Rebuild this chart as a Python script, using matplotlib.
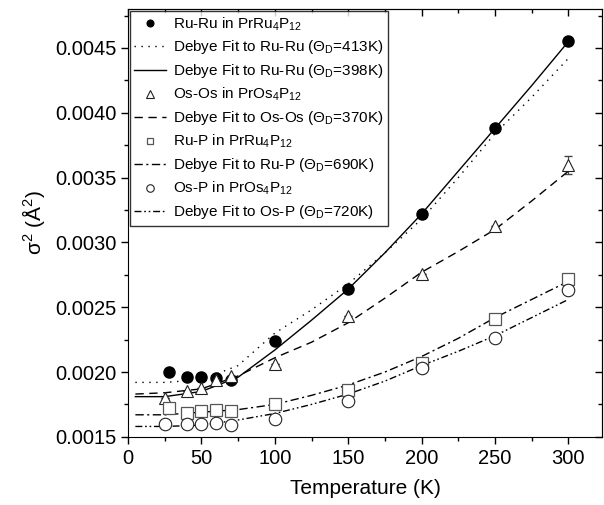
import matplotlib
matplotlib.use("Agg")
import matplotlib.pyplot as plt
from matplotlib.ticker import MultipleLocator

plt.rcParams['font.family'] = ['Liberation Sans', 'DejaVu Sans']
plt.rcParams['mathtext.default'] = 'regular'

# measured points
t_ruru = [28, 40, 50, 60, 70, 100, 150, 200, 250, 300]
s_ruru = [0.00200, 0.00196, 0.00196, 0.00195, 0.00194, 0.00224, 0.00264, 0.00322, 0.00388, 0.00455]

t_osos = [25, 40, 50, 60, 70, 100, 150, 200, 250, 300]
s_osos = [0.00180, 0.00185, 0.00188, 0.00194, 0.00197, 0.00206, 0.00243, 0.00276, 0.00313, 0.00360]
e_osos = [0, 0, 0, 0, 0, 0, 0, 0, 0, 0.00007]

t_rup = [28, 40, 50, 60, 70, 100, 150, 200, 250, 300]
s_rup = [0.00172, 0.00168, 0.00170, 0.00171, 0.00170, 0.00175, 0.00186, 0.00207, 0.00241, 0.00272]

t_osp = [25, 40, 50, 60, 70, 100, 150, 200, 250, 300]
s_osp = [0.00160, 0.00160, 0.00160, 0.00161, 0.00159, 0.00164, 0.00178, 0.00203, 0.00226, 0.00263]

# fit curves
t_fit = [5, 25, 50, 75, 100, 125, 150, 175, 200, 225, 250, 275, 300]
f_ruru413 = [0.00192, 0.00192, 0.00194, 0.00205, 0.00230, 0.00248, 0.00268, 0.00292, 0.00318, 0.00350, 0.00384, 0.00412, 0.00442]
f_ruru398 = [0.00181, 0.00181, 0.00185, 0.00196, 0.00217, 0.00240, 0.00264, 0.00292, 0.00322, 0.00355, 0.00388, 0.00421, 0.00455]
f_osos370 = [0.00183, 0.00184, 0.00187, 0.00197, 0.00211, 0.00223, 0.00238, 0.00257, 0.00277, 0.00293, 0.00310, 0.00332, 0.00355]
f_rup690 = [0.00167, 0.00167, 0.00169, 0.00171, 0.00175, 0.00182, 0.00190, 0.00200, 0.00212, 0.00226, 0.00242, 0.00256, 0.00270]
f_osp720 = [0.00158, 0.00158, 0.00159, 0.00163, 0.00168, 0.00175, 0.00183, 0.00193, 0.00205, 0.00216, 0.00228, 0.00242, 0.00256]

fig = plt.figure(figsize=(6.04, 5.05), dpi=100)
ax = fig.add_axes([0.212, 0.135, 0.785, 0.847])

h1, = ax.plot(t_ruru, s_ruru, 'o', color='black', ms=8, zorder=3)
h2, = ax.plot(t_fit, f_ruru413, color='black', lw=1, ls=(0, (1, 4)))
h3, = ax.plot(t_fit, f_ruru398, color='black', lw=1, ls='-')
ax.errorbar(t_osos, s_osos, yerr=e_osos, fmt='none', ecolor='#444444', elinewidth=0.8, capsize=3)
h4, = ax.plot(t_osos, s_osos, '^', mfc='white', mec='#222222', ms=9, mew=0.8, zorder=3)
h5, = ax.plot(t_fit, f_osos370, color='black', lw=1, ls=(0, (6, 4)))
h6, = ax.plot(t_rup, s_rup, 's', mfc='white', mec='#555555', ms=8, mew=0.9, zorder=3)
h7, = ax.plot(t_fit, f_rup690, color='black', lw=1, ls=(0, (6, 2.5, 1.5, 2.5)))
h8, = ax.plot(t_osp, s_osp, 'o', mfc='white', mec='#222222', ms=9, mew=0.8, zorder=3)
h9, = ax.plot(t_fit, f_osp720, color='black', lw=1, ls=(0, (5, 2, 1.2, 2, 1.2, 2)))

labels = ['Ru-Ru in PrRu$_4$P$_{12}$',
          'Debye Fit to Ru-Ru (Θ$_D$=413K)',
          'Debye Fit to Ru-Ru (Θ$_D$=398K)',
          'Os-Os in PrOs$_4$P$_{12}$',
          'Debye Fit to Os-Os (Θ$_D$=370K)',
          'Ru-P in PrRu$_4$P$_{12}$',
          'Debye Fit to Ru-P (Θ$_D$=690K)',
          'Os-P in PrOs$_4$P$_{12}$',
          'Debye Fit to Os-P (Θ$_D$=720K)']

ax.set_xlim(0, 323)
ax.set_ylim(0.0015, 0.0048)
ax.xaxis.set_major_locator(MultipleLocator(50))
ax.xaxis.set_minor_locator(MultipleLocator(25))
ax.yaxis.set_major_locator(MultipleLocator(0.0005))
ax.yaxis.set_minor_locator(MultipleLocator(0.00025))
ax.yaxis.set_major_formatter(plt.FormatStrFormatter('%.4f'))
ax.tick_params(which='both', direction='out', labelsize=14.5, width=1)
ax.tick_params(which='major', length=5)
ax.tick_params(which='minor', length=3)

# mirrored ticks pointing inward on top and right
axt = ax.secondary_xaxis('top')
axt.xaxis.set_major_locator(MultipleLocator(50))
axt.xaxis.set_minor_locator(MultipleLocator(25))
axt.tick_params(which='both', direction='in', labeltop=False, width=1)
axt.tick_params(which='major', length=5)
axt.tick_params(which='minor', length=3)
axr = ax.secondary_yaxis('right')
axr.yaxis.set_major_locator(MultipleLocator(0.0005))
axr.yaxis.set_minor_locator(MultipleLocator(0.00025))
axr.tick_params(which='both', direction='in', labelright=False, width=1)
axr.tick_params(which='major', length=5)
axr.tick_params(which='minor', length=3)

ax.set_xlabel('Temperature (K)', fontsize=15, labelpad=8)
ax.set_ylabel('σ$^2$ (Å$^2$)', fontsize=15, labelpad=6)

leg = ax.legend([h1, h2, h3, h4, h5, h6, h7, h8, h9], labels, loc='upper left', fontsize=11,
                frameon=True, fancybox=False, edgecolor='black',
                borderaxespad=0.1, labelspacing=0.38, handlelength=2.1, markerscale=0.6,
                borderpad=0.3, handletextpad=0.45)
leg.get_frame().set_linewidth(1)

fig.savefig('out.png', dpi=100)
